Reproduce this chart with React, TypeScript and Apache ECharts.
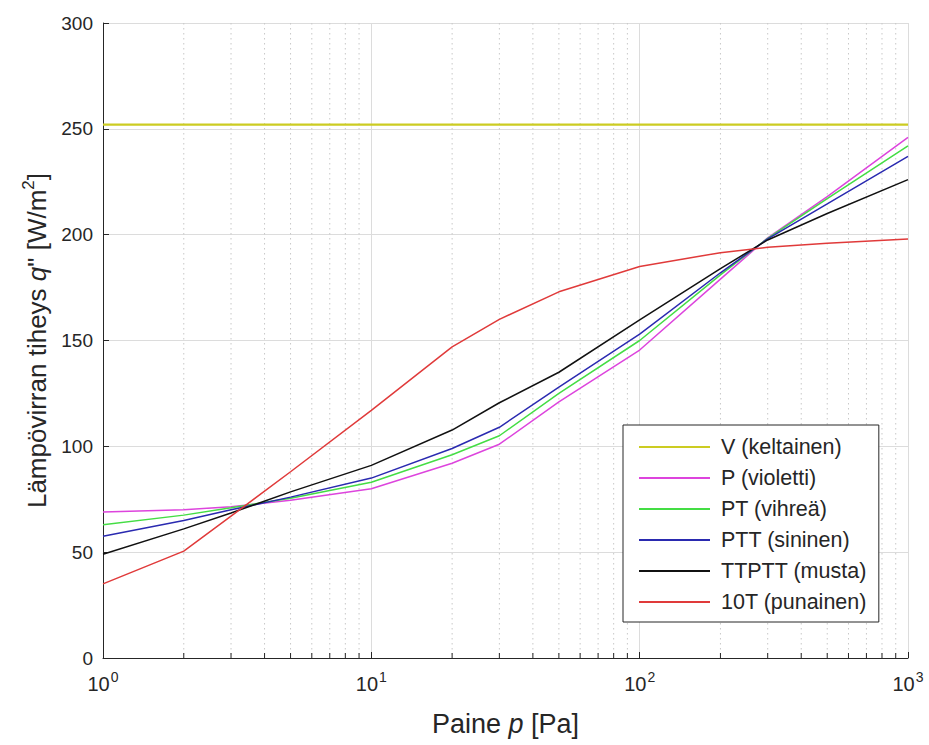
import React, { useEffect, useRef } from "react";
import * as echarts from "echarts";

const pressures = [1, 2, 3, 5, 10, 20, 30, 50, 100, 200, 300, 500, 1000];
const seriesNames = [
  "V (keltainen)",
  "P (violetti)",
  "PT (vihreä)",
  "PTT (sininen)",
  "TTPTT (musta)",
  "10T (punainen)",
];
const vValues = [252, 252, 252, 252, 252, 252, 252, 252, 252, 252, 252, 252, 252];
const pValues = [69, 70, 71.5, 74.5, 80, 92, 101, 121, 145.5, 179, 198.5, 218, 246];
const ptValues = [63, 67.5, 71, 75.5, 83, 96, 105, 125, 150, 181, 198.3, 217, 242];
const pttValues = [57.5, 65, 70, 76, 85, 99, 109, 128, 153, 182, 198, 214.5, 237];
const ttpttValues = [49, 61, 68.5, 78.5, 91, 107.7, 120.6, 135, 159.7, 184, 197.5, 210, 226];
const t10Values = [35, 50.5, 67, 88, 117, 147, 160, 173, 185, 191.5, 194, 196, 198];
const seriesColors = ["#cccc22", "#dd44dd", "#44dd44", "#2a2ab0", "#111111", "#e03a3a"];
const yTicks = [0, 50, 100, 150, 200, 250, 300];
const minorX = [2, 3, 4, 5, 6, 7, 8, 9, 20, 30, 40, 50, 60, 70, 80, 90, 200, 300, 400, 500, 600, 700, 800, 900];

const FONT = "'Liberation Sans', Arial, Helvetica, sans-serif";
const TXT = "#262626";

export default function App() {
  const ref = useRef<HTMLDivElement>(null);
  useEffect(() => {
    if (!ref.current) return;
    const chart = echarts.init(ref.current, undefined, { renderer: "svg" });
    const allValues = [vValues, pValues, ptValues, pttValues, ttpttValues, t10Values];
    const lineSeries = seriesNames.map((name, i) => ({
      name,
      type: "line",
      data: pressures.map((p, j) => [p, allValues[i][j]]),
      symbol: "none",
      showSymbol: false,
      smooth: false,
      lineStyle: { color: seriesColors[i], width: i === 0 ? 2.2 : 1.5 },
      itemStyle: { color: seriesColors[i] },
      z: 3,
    }));
    const yMin = yTicks[0];
    const yMax = yTicks[yTicks.length - 1];
    chart.setOption({
      animation: false,
      textStyle: { fontFamily: FONT },
      grid: { left: 103, top: 23, right: 21, bottom: 87 },
      legend: {
        data: seriesNames,
        orient: "vertical",
        left: 623,
        top: 425,
        icon: "rect",
        itemWidth: 71,
        itemHeight: 2,
        itemGap: 9,
        backgroundColor: "#ffffff",
        borderColor: "#262626",
        borderWidth: 1,
        borderRadius: 0,
        padding: [11, 12, 9, 16],
        textStyle: { fontSize: 21.5, lineHeight: 22, color: TXT, fontFamily: FONT, padding: [0, 0, 0, 6] },
      },
      xAxis: {
        type: "log",
        logBase: 10,
        min: 1,
        max: 1000,
        name: "{n|Paine }{i|p}{n| [Pa]}",
        nameLocation: "middle",
        nameGap: 52,
        nameTextStyle: {
          rich: {
            n: { fontSize: 27, color: TXT, fontFamily: FONT },
            i: { fontSize: 27, color: TXT, fontFamily: FONT, fontStyle: "italic" },
          },
        },
        axisLine: { show: true, lineStyle: { color: TXT, width: 1 } },
        axisTick: { show: true, inside: true, length: 6, lineStyle: { color: TXT } },
        axisLabel: {
          margin: 12,
          formatter: (v: number) => `{b|10}{s|${Math.round(Math.log10(v))}}`,
          rich: {
            b: { fontSize: 20, color: TXT, fontFamily: FONT },
            s: { fontSize: 14, color: TXT, fontFamily: FONT, padding: [0, 0, 14, 1] },
          },
        },
        splitLine: { show: true, lineStyle: { color: "#dcdcdc", width: 1 } },
      },
      yAxis: {
        type: "value",
        min: yMin,
        max: yMax,
        interval: 50,
        name: '{n|Lämpövirran tiheys }{i|q}{n|" [W/m}{s|2}{n|]}',
        nameLocation: "middle",
        nameGap: 50,
        nameRotate: 90,
        nameTextStyle: {
          rich: {
            n: { fontSize: 26, color: TXT, fontFamily: FONT },
            i: { fontSize: 26, color: TXT, fontFamily: FONT, fontStyle: "italic" },
            s: { fontSize: 17, color: TXT, fontFamily: FONT, padding: [0, 0, 16, 0] },
          },
        },
        axisLine: { show: true, lineStyle: { color: TXT, width: 1 } },
        axisTick: { show: true, inside: true, length: 6, lineStyle: { color: TXT } },
        axisLabel: { fontSize: 19, color: TXT, fontFamily: FONT, margin: 10 },
        splitLine: { show: true, lineStyle: { color: "#dcdcdc", width: 1 } },
      },
      series: [
        {
          type: "custom",
          silent: true,
          z: 1,
          data: minorX.map((x) => [x, yMin]),
          encode: { x: 0, y: 1 },
          renderItem: (_params: any, api: any) => {
            const x = api.value(0);
            const top = api.coord([x, yMax]);
            const bot = api.coord([x, yMin]);
            return {
              type: "group",
              children: [
                {
                  type: "line",
                  shape: { x1: top[0], y1: top[1], x2: bot[0], y2: bot[1] },
                  style: { stroke: "#c8c8c8", lineWidth: 1, lineDash: [1.5, 3.5] },
                },
                {
                  type: "line",
                  shape: { x1: bot[0], y1: bot[1], x2: bot[0], y2: bot[1] - 5 },
                  style: { stroke: TXT, lineWidth: 1 },
                },
              ],
            };
          },
        },
        ...lineSeries,
      ],
    });
    return () => chart.dispose();
  }, []);
  return (
    <div
      ref={ref}
      style={{ position: "fixed", left: 0, top: 0, width: 929, height: 745, background: "#fff" }}
    />
  );
}
